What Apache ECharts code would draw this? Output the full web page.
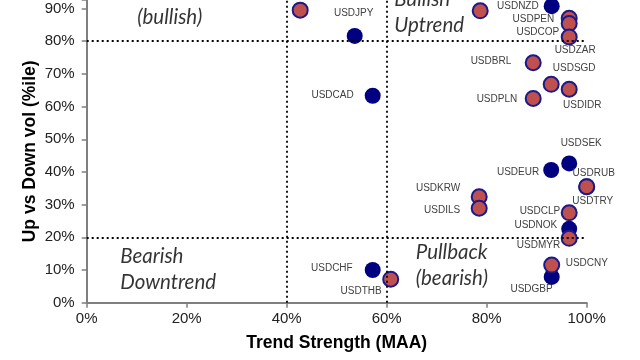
<!DOCTYPE html>
<html><head><meta charset="utf-8">
<script src="https://cdn.jsdelivr.net/npm/echarts@6/dist/echarts.min.js"></script>
<style>html,body{margin:0;padding:0;background:#fff}#c{width:640px;height:360px}</style>
</head><body><div id="c"></div>
<script>
// Blue points (navy)
const blueNames = ['USDJPY','USDCAD','USDNZD','USDSEK','USDEUR','USDNOK','USDGBP','USDCHF'];
const blueTrend = [53.6, 57.2, 93.0, 96.5, 92.9, 96.5, 93.0, 57.2];
const blueVol   = [81.6, 63.3, 90.7, 42.6, 40.6, 22.6, 7.9, 10.0];
// Red points
const redNames = ['','','','USDPEN','USDCOP','USDZAR','USDBRL','USDSGD','USDIDR','USDPLN','USDRUB','USDTRY','USDKRW','USDILS','USDCLP','USDMYR','USDCNY','USDTHB'];
const redTrend = [42.7, 78.7, 96.7, 96.5, 96.5, 96.5, 89.3, 92.9, 96.5, 89.3, 100, 100, 78.5, 78.5, 96.5, 96.5, 93.0, 60.8];
const redVol   = [89.5, 89.3, 93.0, 87.0, 85.4, 81.3, 73.4, 66.8, 65.3, 62.5, 35.5, 35.5, 32.4, 28.9, 27.5, 19.7, 11.5, 7.2];
// Axis ticks
const xTicks = [0, 20, 40, 60, 80, 100];
const yTicks = [0, 10, 20, 30, 40, 50, 60, 70, 80, 90];
const yVisibleMax = 92.6; // reference picture is cropped at the top
// Quadrant thresholds
const trendCuts = [40, 60];
const volCuts = [20, 80];
// Quadrant annotations
const quadText = ['Bullish\nUptrend', '(bullish)', 'Bearish\nDowntrend', 'Pullback\n(bearish)'];
const quadX = [61.5, 10.1, 6.7, 65.8];
const quadY = [88.9, 87.3, 10.3, 11.5];

// label placement: [align, dx, dy]
const labelLayout = {
  USDJPY:['center',-1,-23], USDCAD:['right',-19,-1], USDNZD:['right',-13,0],
  USDPEN:['right',-15,1], USDCOP:['right',-10,9], USDZAR:['center',6,13],
  USDBRL:['right',-22,-2], USDSGD:['center',23,-16], USDIDR:['center',13,16],
  USDPLN:['right',-16,1], USDSEK:['center',12,-20], USDEUR:['right',-12,2],
  USDRUB:['center',7,-13], USDTRY:['center',6,15], USDKRW:['right',-19,-9],
  USDILS:['right',-19,2], USDCLP:['right',-9,-2], USDNOK:['right',-12,-4],
  USDMYR:['right',-9,7], USDCNY:['left',14,-2], USDGBP:['right',1,12],
  USDCHF:['right',-20,-2], USDTHB:['right',-9,12]
};

function build(names, xs, ys) {
  return names.map((n, i) => {
    const item = { name: n, value: [xs[i], ys[i]] };
    const l = labelLayout[n];
    if (n && l) {
      item.label = { show: true, position: 'inside', align: l[0], verticalAlign: 'middle', offset: [l[1], l[2]] };
    } else {
      item.label = { show: false };
    }
    return item;
  });
}

const labelStyle = { formatter: '{b}', fontFamily: 'Liberation Sans', fontSize: 10, color: '#404040' };
const axisFont = { fontFamily: 'Liberation Sans', fontSize: 15, color: '#222' };
const titleFont = { fontFamily: 'Liberation Sans', fontSize: 17.5, fontWeight: 'bold', color: '#000' };

const chart = echarts.init(document.getElementById('c'), null, { renderer: 'canvas' });
chart.setOption({
  animation: false,
  backgroundColor: '#fff',
  grid: { left: 86.7, right: 53.3, top: 0, bottom: 57.3, containLabel: false },
  xAxis: {
    type: 'value', min: 0, max: 100, interval: 20,
    axisLine: { show: true, lineStyle: { color: '#7f7f7f', width: 2 } },
    axisTick: { show: true, length: 5, lineStyle: { color: '#7f7f7f', width: 1.5 } },
    axisLabel: Object.assign({ formatter: v => xTicks.includes(v) ? v + '%' : '', margin: 9 }, axisFont),
    splitLine: { show: false },
    name: 'Trend Strength (MAA)', nameLocation: 'middle', nameGap: 31, nameMoveOverlap: false,
    nameTextStyle: titleFont
  },
  yAxis: {
    type: 'value', min: 0, max: yVisibleMax, interval: 10,
    axisLine: { show: true, lineStyle: { color: '#7f7f7f', width: 2 } },
    axisTick: { show: true, length: 5, lineStyle: { color: '#7f7f7f', width: 1.5 } },
    axisLabel: Object.assign({ formatter: v => yTicks.includes(v) ? v + '%' : '', margin: 12 }, axisFont),
    splitLine: { show: false },
    name: 'Up vs Down vol (%ile)', nameLocation: 'middle', nameGap: 48, nameMoveOverlap: false,
    nameTextStyle: titleFont
  },
  series: [
    {
      type: 'scatter', symbolSize: 0, silent: true,
      data: quadText.map((t, i) => ({ name: t, value: [quadX[i], quadY[i]] })),
      label: { show: true, position: 'inside', align: 'left', verticalAlign: 'middle', formatter: '{b}',
        fontFamily: 'Lato', fontStyle: 'italic', fontSize: 20.5, lineHeight: 26, color: '#000' },
      markLine: {
        silent: true, symbol: 'none', label: { show: false },
        lineStyle: { color: '#000', type: [2, 3], width: 1.8 },
        data: trendCuts.map(v => ({ xAxis: v })).concat(volCuts.map(v => ({ yAxis: v })))
      }
    },
    {
      type: 'scatter', symbol: 'circle', symbolSize: 16,
      itemStyle: { color: '#000080', borderColor: '#000080', borderWidth: 0, opacity: 1 },
      label: labelStyle,
      data: build(blueNames, blueTrend, blueVol)
    },
    {
      type: 'scatter', symbol: 'circle', symbolSize: 15,
      itemStyle: { color: '#C0504D', borderColor: '#1a1a8c', borderWidth: 2, opacity: 1 },
      label: labelStyle,
      data: build(redNames, redTrend, redVol)
    }
  ]
});
</script></body></html>
